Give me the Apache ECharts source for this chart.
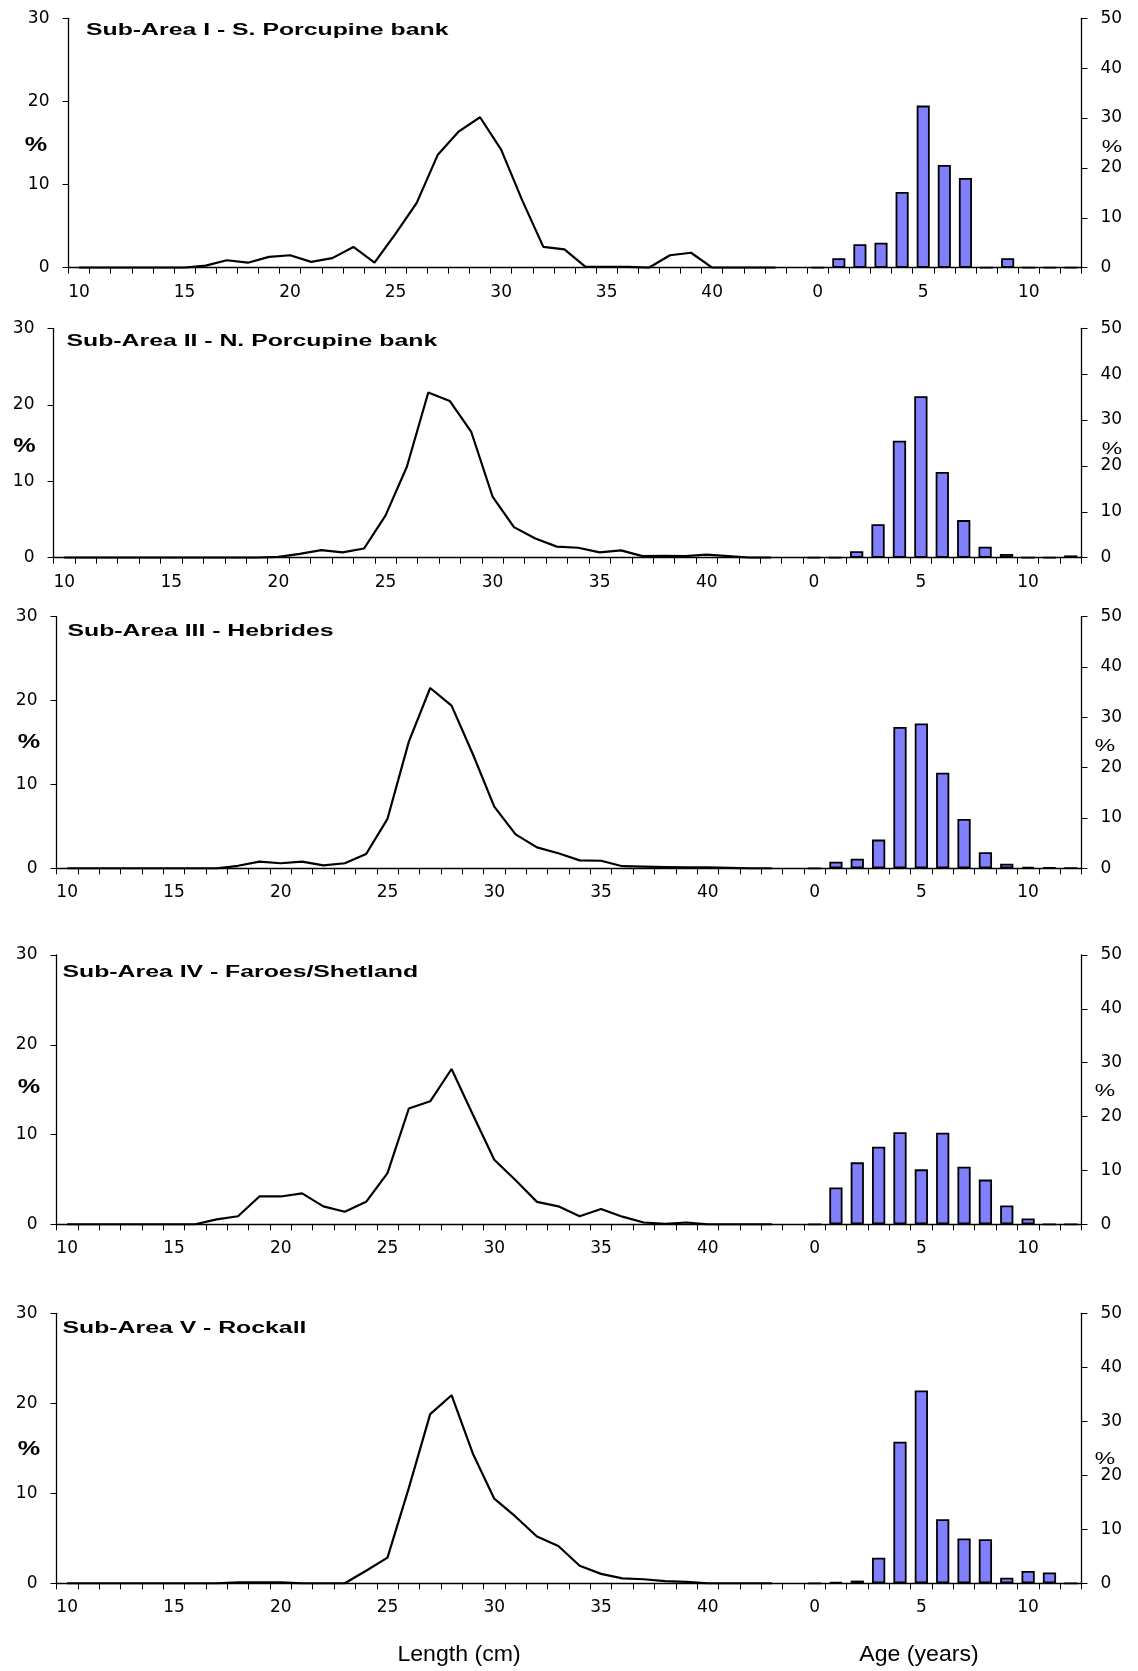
<!DOCTYPE html>
<html>
<head>
<meta charset="utf-8">
<script src="https://cdn.jsdelivr.net/npm/echarts@6/dist/echarts.min.js"></script>
<style>
html,body{margin:0;padding:0;background:#fff;}
#chart{width:1138px;height:1671px;}
</style>
</head>
<body>
<div id="chart"></div>
<script>
// Category axis: length classes (cm) 10..44, then age classes (years) 0..12
const lengthCats = ['10','11','12','13','14','15','16','17','18','19','20','21','22','23','24','25','26','27','28','29','30','31','32','33','34','35','36','37','38','39','40','41','42','43','44'];
const ageCats = ['0','1','2','3','4','5','6','7','8','9','10','11','12'];

const panelTitles = [
  'Sub-Area I - S. Porcupine bank',
  'Sub-Area II - N. Porcupine bank',
  'Sub-Area III - Hebrides',
  'Sub-Area IV - Faroes/Shetland',
  'Sub-Area V - Rockall'
];

// Length distributions (%), lengths 10..43 cm
const len1 = [0,0,0,0,0,0,0.25,0.9,0.6,1.3,1.5,0.7,1.15,2.5,0.6,4.1,7.8,13.6,16.4,18.1,14.2,8.1,2.5,2.2,0.1,0.1,0.1,0,1.5,1.8,0,0,0,0];
const len2 = [0,0,0,0,0,0,0,0,0,0,0.1,0.5,1.0,0.7,1.2,5.5,11.9,21.6,20.5,16.5,8.0,4.0,2.5,1.45,1.3,0.7,0.95,0.2,0.25,0.2,0.4,0.2,0,0];
const len3 = [0,0,0,0,0,0,0,0,0.3,0.8,0.6,0.8,0.35,0.6,1.7,5.9,15.1,21.5,19.4,13.6,7.35,4.05,2.5,1.8,0.95,0.9,0.25,0.2,0.15,0.1,0.1,0.05,0,0];
const len4 = [0,0,0,0,0,0,0,0.55,0.9,3.1,3.1,3.45,2.0,1.4,2.5,5.7,12.9,13.7,17.3,12.2,7.2,4.9,2.5,2.0,0.9,1.7,0.85,0.2,0.05,0.2,0,0,0,0];
const len5 = [0,0,0,0,0,0,0,0,0.1,0.1,0.1,0,0,0,1.4,2.85,10.6,18.8,20.9,14.4,9.4,7.4,5.2,4.15,1.95,1.05,0.55,0.45,0.25,0.15,0,0,0,0];

// Age distributions (%), ages 0..12
const age1 = [0,1.9,4.7,5.0,15.2,32.5,20.6,18.0,0,1.9,0,0,0];
const age2 = [0,0,1.4,7.3,25.5,35.2,18.7,8.2,2.4,0.8,0,0,0.5];
const age3 = [0,1.3,1.9,5.7,28.1,28.8,19.0,9.8,3.2,0.9,0.3,0.15,0.05];
const age4 = [0,6.85,11.5,14.4,17.1,10.2,17.0,10.7,8.3,3.5,1.1,0,0];
const age5 = [0,0.2,0.5,4.75,26.2,35.7,11.85,8.3,8.15,1.05,2.3,2.0,0];

const lengthSeries = [len1,len2,len3,len4,len5];
const ageSeries = [age1,age2,age3,age4,age5];

// Layout (pixel positions) per panel
const layout = [
  {left:68.5, top:18.3, height:249.4, tx:86, ty:31, pl:[36,145], pr:[1112,147]},
  {left:53.5, top:328.3, height:229.4, tx:66.5, ty:342, pl:[24.5,446], pr:[1112,449]},
  {left:56.5, top:616.7, height:251.6, tx:67.5, ty:632, pl:[29,742], pr:[1105,746]},
  {left:56.5, top:955, height:269.3, tx:62.5, ty:973, pl:[29,1087], pr:[1105,1091]},
  {left:56.5, top:1313.3, height:270, tx:62.5, ty:1329, pl:[29,1449], pr:[1105,1459]}
];

const cats = lengthCats.concat(ageCats);
const nLen = lengthCats.length;
const axisFont = {fontFamily:'DejaVu Sans', fontSize:17, color:'#000'};

const grid = [], xAxis = [], yAxis = [], series = [], graphic = [];
layout.forEach((L, i) => {
  grid.push({left:L.left, right:56.5, top:L.top, height:L.height, containLabel:false});
  xAxis.push({
    type:'category', gridIndex:i, data:cats, boundaryGap:true,
    axisLine:{show:true, onZero:false, lineStyle:{color:'#000', width:1.3}},
    axisTick:{show:true, interval:0, length:6, inside:false, lineStyle:{color:'#000', width:1}},
    axisLabel:Object.assign({interval:4, margin:16}, axisFont),
    splitLine:{show:false}
  });
  yAxis.push({
    type:'value', gridIndex:i, position:'left', min:0, max:30, interval:10,
    axisLine:{show:true, lineStyle:{color:'#000', width:1.3}},
    axisTick:{show:true, length:6, lineStyle:{color:'#000'}},
    axisLabel:Object.assign({margin:19}, axisFont),
    splitLine:{show:false}
  });
  yAxis.push({
    type:'value', gridIndex:i, position:'right', min:0, max:50, interval:10,
    axisLine:{show:true, lineStyle:{color:'#000', width:1.3}},
    axisTick:{show:true, length:6, lineStyle:{color:'#000'}},
    axisLabel:Object.assign({margin:19}, axisFont),
    splitLine:{show:false}
  });
  const lineData = lengthSeries[i].concat(new Array(cats.length - lengthSeries[i].length).fill(null));
  const barData = new Array(nLen).fill(null).concat(ageSeries[i]);
  series.push({
    type:'line', xAxisIndex:i, yAxisIndex:2*i, data:lineData,
    symbol:'none', connectNulls:false, silent:true, animation:false,
    lineStyle:{color:'#000', width:2.2}
  });
  series.push({
    type:'bar', xAxisIndex:i, yAxisIndex:2*i+1, data:barData,
    barWidth:'62%', silent:true, animation:false,
    itemStyle:{color:'#8080ff', borderColor:'#000', borderWidth:1.8}
  });
  graphic.push({
    type:'text', x:L.tx, y:L.ty, scaleX:1.55,
    style:{text:panelTitles[i], fontFamily:'Liberation Sans', fontWeight:'bold', fontSize:16,
      fill:'#000', textAlign:'left', textVerticalAlign:'middle'}
  });
  graphic.push({
    type:'text', x:L.pl[0], y:L.pl[1], scaleX:1.2,
    style:{text:'%', fontFamily:'Liberation Sans', fontWeight:'bold', fontSize:21,
      fill:'#000', textAlign:'center', textVerticalAlign:'middle'}
  });
  graphic.push({
    type:'text', x:L.pr[0], y:L.pr[1], scaleX:1.35,
    style:{text:'%', fontFamily:'Liberation Sans', fontSize:17,
      fill:'#000', textAlign:'center', textVerticalAlign:'middle'}
  });
});

graphic.push({
  type:'text', x:459, y:1655, scaleX:1.05,
  style:{text:'Length (cm)', fontFamily:'Liberation Sans', fontSize:22, fill:'#000',
    textAlign:'center', textVerticalAlign:'middle'}
});
graphic.push({
  type:'text', x:919, y:1655, scaleX:1.05,
  style:{text:'Age (years)', fontFamily:'Liberation Sans', fontSize:22, fill:'#000',
    textAlign:'center', textVerticalAlign:'middle'}
});

const chart = echarts.init(document.getElementById('chart'), null, {renderer:'canvas'});
chart.setOption({
  backgroundColor:'#fff',
  animation:false,
  grid, xAxis, yAxis, series, graphic
});
</script>
</body>
</html>
